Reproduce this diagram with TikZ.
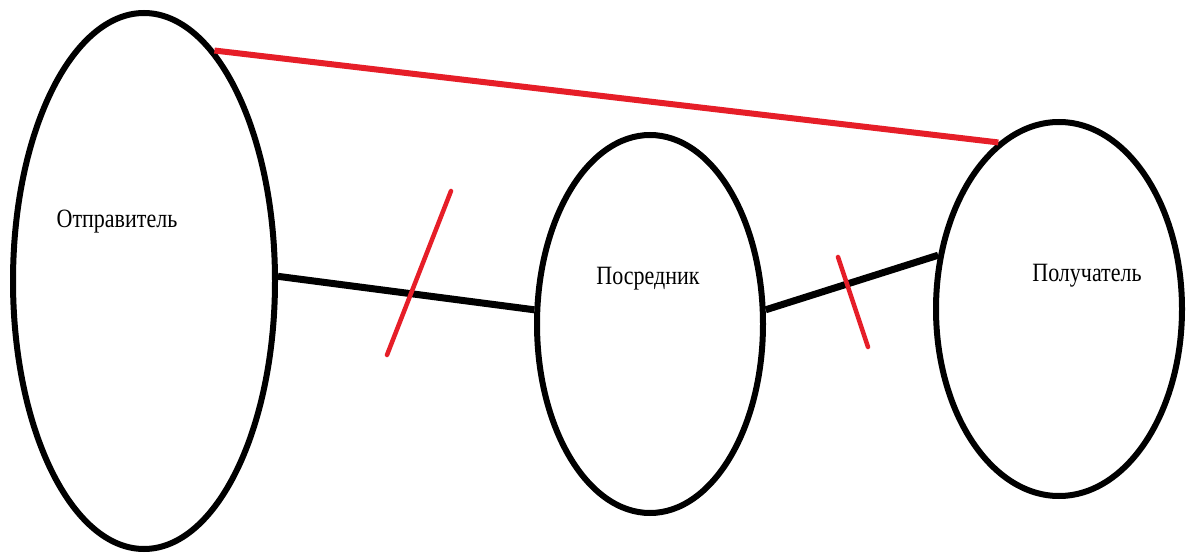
\documentclass[tikz,border=0pt]{standalone}
\usepackage{fontspec}
\setmainfont{Liberation Serif}
\usetikzlibrary{shapes.geometric}
\definecolor{paintred}{RGB}{230,30,40}
\tikzset{
  party/.style={draw=black, line width=6pt, ellipse, inner sep=0pt},
  lbl/.style={font=\fontsize{22}{24}\selectfont, inner sep=0pt, yscale=1.2},
  link/.style={draw=black, line width=7pt},
  redlink/.style={draw=paintred, line width=6pt},
  slash/.style={draw=paintred, line width=4.5pt, line cap=round}
}
\begin{document}
\begin{tikzpicture}[x=1pt, y=-1pt]
\useasboundingbox (0,0) rectangle (1186,553);
\fill[white] (0,0) rectangle (1186,553);
\node[party, minimum width=262pt, minimum height=536pt] (s) at (144,281) {};
\node[party, minimum width=226pt, minimum height=378pt] (m) at (650,324) {};
\node[party, minimum width=246pt, minimum height=374pt] (r) at (1059,309) {};
\node[lbl] (ts) at (117,222) {Отправитель};
\node[lbl] (tm) at (648,279) {Посредник};
\node[lbl] (tr) at (1087,276) {Получатель};
\draw[redlink] (s.73.5) -- (r.110.2);
\draw[link] (s.2.6) -- (m.173.3);
\draw[link] (m.7) -- (r.156.2);
\coordinate (a1) at (451,191);
\coordinate (a2) at (387,355);
\coordinate (b1) at (838,257);
\coordinate (b2) at (868,347);
\draw[slash] (a1) -- (a2);
\draw[slash] (b1) -- (b2);
\end{tikzpicture}
\end{document}
